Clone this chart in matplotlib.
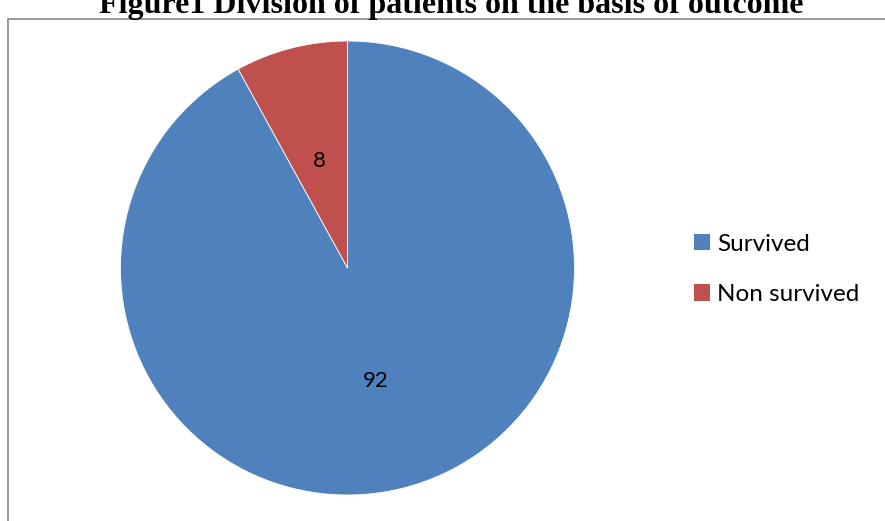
import matplotlib
matplotlib.use('Agg')
import numpy as np
import matplotlib.pyplot as plt
from matplotlib.patches import Rectangle, Patch

# outcome split
labels = ['Survived', 'Non survived']
values = [92, 8]
colors = ['#4F81BD', '#C0504D']
title = 'Figure1 Division of patients on the basis of outcome'

W, H = 885, 521
fig = plt.figure(figsize=(W / 100, H / 100), dpi=100)

# chart frame (runs off the right and bottom edge)
fig.patches.append(Rectangle((8 / W, -0.1), 1.0, 1.1 - 19 / H, transform=fig.transFigure,
                             fill=False, edgecolor='#868686', linewidth=1.2))

# title, partly cut off at the top as in the source
fig.text(451 / W, 1 - 12.5 / H, title, ha='center', va='baseline',
         family='Liberation Serif', fontweight='bold', fontsize=23)

cx, cy, r = 347.5, 268, 227
ax = fig.add_axes([(cx - r) / W, (H - cy - r) / H, 2 * r / W, 2 * r / H])
wedges, texts = ax.pie(values, colors=colors, startangle=90, counterclock=False,
                       wedgeprops=dict(edgecolor='white', linewidth=0.6))
for w, v in zip(wedges, values):
    ang = np.deg2rad((w.theta1 + w.theta2) / 2)
    ax.text(0.5 * np.cos(ang), 0.5 * np.sin(ang) - 0.012, str(v), ha='center', va='center',
            family='Lato', fontsize=16)
ax.set_xlim(-1, 1)
ax.set_ylim(-1, 1)
ax.set_aspect('equal')
ax.axis('off')

handles = [Patch(facecolor=c, edgecolor='none') for c in colors]
fig.legend(handles, labels, loc='upper left', bbox_to_anchor=(672 / W, 1 - 212 / H),
           frameon=False, prop=dict(family='Lato', size=17.5),
           handlelength=0.65, handleheight=0.65, handletextpad=0.3, labelspacing=1.2)

fig.savefig('out.png', dpi=100)
